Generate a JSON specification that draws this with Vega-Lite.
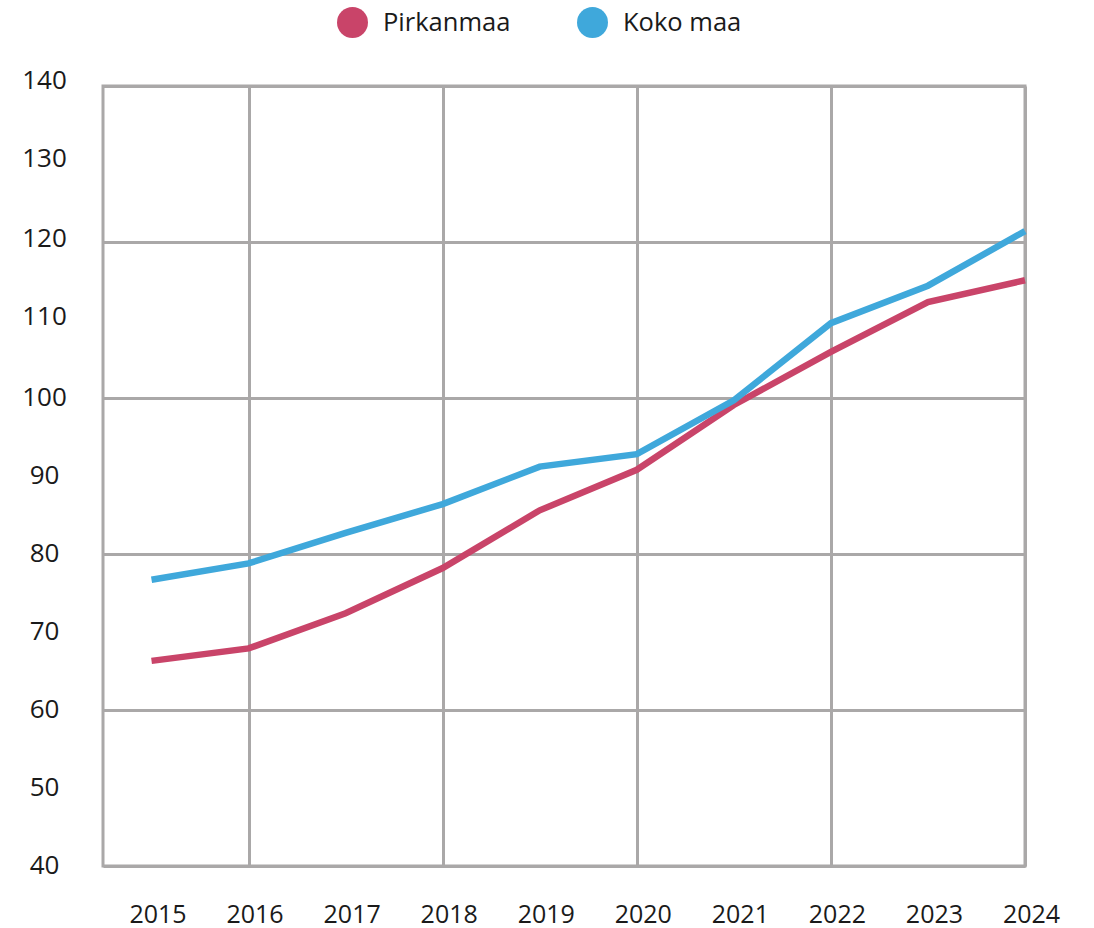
{
  "$schema": "https://vega.github.io/schema/vega-lite/v6.json",
  "autosize": "none",
  "width": 922,
  "height": 780,
  "padding": {"left": 103, "top": 86, "right": 69, "bottom": 62},
  "background": "white",
  "config": {
    "view": {"stroke": "#aaa8a8", "strokeWidth": 3},
    "font": "Open Sans"
  },
  "data": {
    "values": [
      {"vuosi": 2015, "alue": "Pirkanmaa", "arvo": 66.3},
      {"vuosi": 2016, "alue": "Pirkanmaa", "arvo": 67.9},
      {"vuosi": 2017, "alue": "Pirkanmaa", "arvo": 72.4},
      {"vuosi": 2018, "alue": "Pirkanmaa", "arvo": 78.2},
      {"vuosi": 2019, "alue": "Pirkanmaa", "arvo": 85.6},
      {"vuosi": 2020, "alue": "Pirkanmaa", "arvo": 90.8},
      {"vuosi": 2021, "alue": "Pirkanmaa", "arvo": 99.1},
      {"vuosi": 2022, "alue": "Pirkanmaa", "arvo": 105.9},
      {"vuosi": 2023, "alue": "Pirkanmaa", "arvo": 112.3},
      {"vuosi": 2024, "alue": "Pirkanmaa", "arvo": 115.1},
      {"vuosi": 2015, "alue": "Koko maa", "arvo": 76.7},
      {"vuosi": 2016, "alue": "Koko maa", "arvo": 78.8},
      {"vuosi": 2017, "alue": "Koko maa", "arvo": 82.7},
      {"vuosi": 2018, "alue": "Koko maa", "arvo": 86.4},
      {"vuosi": 2019, "alue": "Koko maa", "arvo": 91.2},
      {"vuosi": 2020, "alue": "Koko maa", "arvo": 92.8},
      {"vuosi": 2021, "alue": "Koko maa", "arvo": 99.7},
      {"vuosi": 2022, "alue": "Koko maa", "arvo": 109.6},
      {"vuosi": 2023, "alue": "Koko maa", "arvo": 114.4},
      {"vuosi": 2024, "alue": "Koko maa", "arvo": 121.4}
    ]
  },
  "mark": {"type": "line", "strokeWidth": 6.5},
  "encoding": {
    "x": {
      "field": "vuosi",
      "type": "quantitative",
      "scale": {"domain": [2014.5, 2024], "nice": false, "zero": false},
      "axis": {
        "title": null,
        "values": [2015, 2016, 2017, 2018, 2019, 2020, 2021, 2022, 2023, 2024],
        "format": "d",
        "domain": false,
        "ticks": false,
        "tickSize": 0,
        "labelFontSize": 25,
        "labelColor": "#1a1a1a",
        "labelPadding": 36,
        "labelOffset": 6,
        "labelFlush": false,
        "labelOverlap": false,
        "grid": true,
        "gridColor": "#aaa8a8",
        "gridWidth": 3,
        "gridOpacity": {"condition": {"test": "datum.value % 2 === 0", "value": 1}, "value": 0}
      }
    },
    "y": {
      "field": "arvo",
      "type": "quantitative",
      "scale": {"domain": [40, 140], "nice": false, "zero": false},
      "axis": {
        "title": null,
        "values": [40, 50, 60, 70, 80, 90, 100, 110, 120, 130, 140],
        "domain": false,
        "ticks": false,
        "tickSize": 0,
        "labelFontSize": 26,
        "labelColor": "#1a1a1a",
        "labelAlign": "center",
        "labelBaseline": "middle",
        "labelPadding": 59,
        "labelOffset": {
          "condition": [
            {"test": "datum.value >= 130", "value": -6},
            {"test": "datum.value >= 110", "value": -3.5}
          ],
          "value": -1
        },
        "labelFlush": false,
        "labelOverlap": false,
        "grid": true,
        "gridColor": "#aaa8a8",
        "gridWidth": 3,
        "gridOpacity": {"condition": {"test": "datum.value % 20 === 0", "value": 1}, "value": 0}
      }
    },
    "color": {
      "field": "alue",
      "type": "nominal",
      "scale": {"domain": ["Pirkanmaa", "Koko maa"], "range": ["#c94469", "#3fa8db"]},
      "legend": {
        "title": null,
        "orient": "none",
        "direction": "horizontal",
        "legendX": 234,
        "legendY": -79,
        "padding": 0,
        "symbolType": "circle",
        "symbolSize": 960,
        "symbolStrokeWidth": 0,
        "labelFontSize": 25.5,
        "labelColor": "#1a1a1a",
        "labelOffset": 15,
        "columnPadding": 66,
        "encode": {
          "symbols": {
            "update": {
              "fill": {"scale": "color", "field": "value"},
              "fillOpacity": {"value": 1},
              "strokeWidth": {"value": 0}
            }
          }
        }
      }
    }
  }
}
